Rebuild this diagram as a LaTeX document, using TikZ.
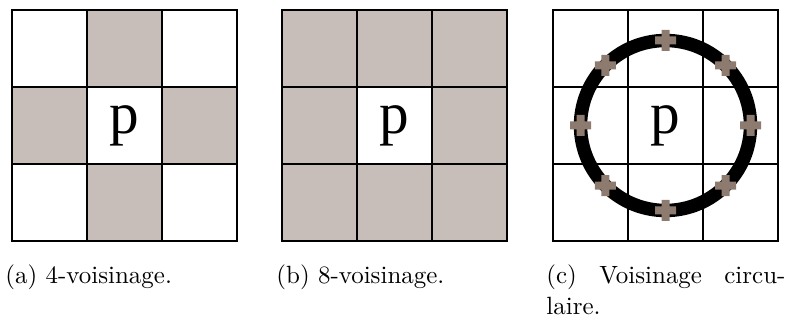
\documentclass[tikz,border=0pt]{standalone}
\usepackage{fontspec}
\newfontfamily\cellfont{Liberation Serif}
\usepackage{xcolor}
\usepackage{tikz}
\usetikzlibrary{calc}

\definecolor{voisin}{RGB}{200,190,185}
\definecolor{marque}{RGB}{142,123,112}

\begin{document}
\begin{tikzpicture}[
    x=0.4389pt, y=-0.4389pt,
    grille/.style={draw=black, line width=0.9pt},
    case/.style={fill=voisin},
    anneau/.style={draw=black, line width=5.9pt},
    lettre/.style={font=\cellfont\fontsize{26}{26}\selectfont, inner sep=0pt},
    legende/.style={font=\fontsize{10.95}{13.6}\selectfont, inner sep=0pt, anchor=base west, align=justify, text width=104.9pt}
]
\useasboundingbox (0,0) rectangle (786,321);

% --- (a) 4-voisinage ---
\foreach \i/\j in {1/0, 0/1, 2/1, 1/2}
    \fill[case] ({12+75*\i},{10+77*\j}) rectangle ++(75,77);

% --- (b) 8-voisinage ---
\foreach \i/\j in {0/0, 1/0, 2/0, 0/1, 2/1, 0/2, 1/2, 2/2}
    \fill[case] ({282+75*\i},{10+77*\j}) rectangle ++(75,77);

% --- Grids ---
\foreach \ox in {12, 282, 553} {
    \draw[grille] (\ox,10) rectangle ++(225,231);
    \foreach \k in {1,2} {
        \draw[grille] ({\ox+75*\k},10) -- ({\ox+75*\k},241);
        \draw[grille] (\ox,{10+77*\k}) -- ({\ox+225},{10+77*\k});
    }
}

% --- Center pixels ---
\node[lettre] (pa) at (124.5,125.5) {p};
\node[lettre] (pb) at (394.5,125.5) {p};
\node[lettre] (pc) at (665.5,125.5) {p};

% --- (c) Voisinage circulaire ---
\coordinate (centre) at (665.5,125.5);
\draw[anneau] (centre) circle[radius=85];
\foreach \a in {0,45,...,315}
    \fill[marque] ($(centre)+(\a:85)$) +(-10.5,-4) rectangle +(10.5,4)
                                       +(-4,-10.5) rectangle +(4,10.5);

% --- Captions ---
\node[legende] (lega) at (5,284) {(a) 4-voisinage.};
\node[legende] (legb) at (276,284) {(b) 8-voisinage.};
\node[legende] (legc) at (546,284) {\tolerance=10000 (c) Voisinage circu-\linebreak laire.};

\end{tikzpicture}
\end{document}
